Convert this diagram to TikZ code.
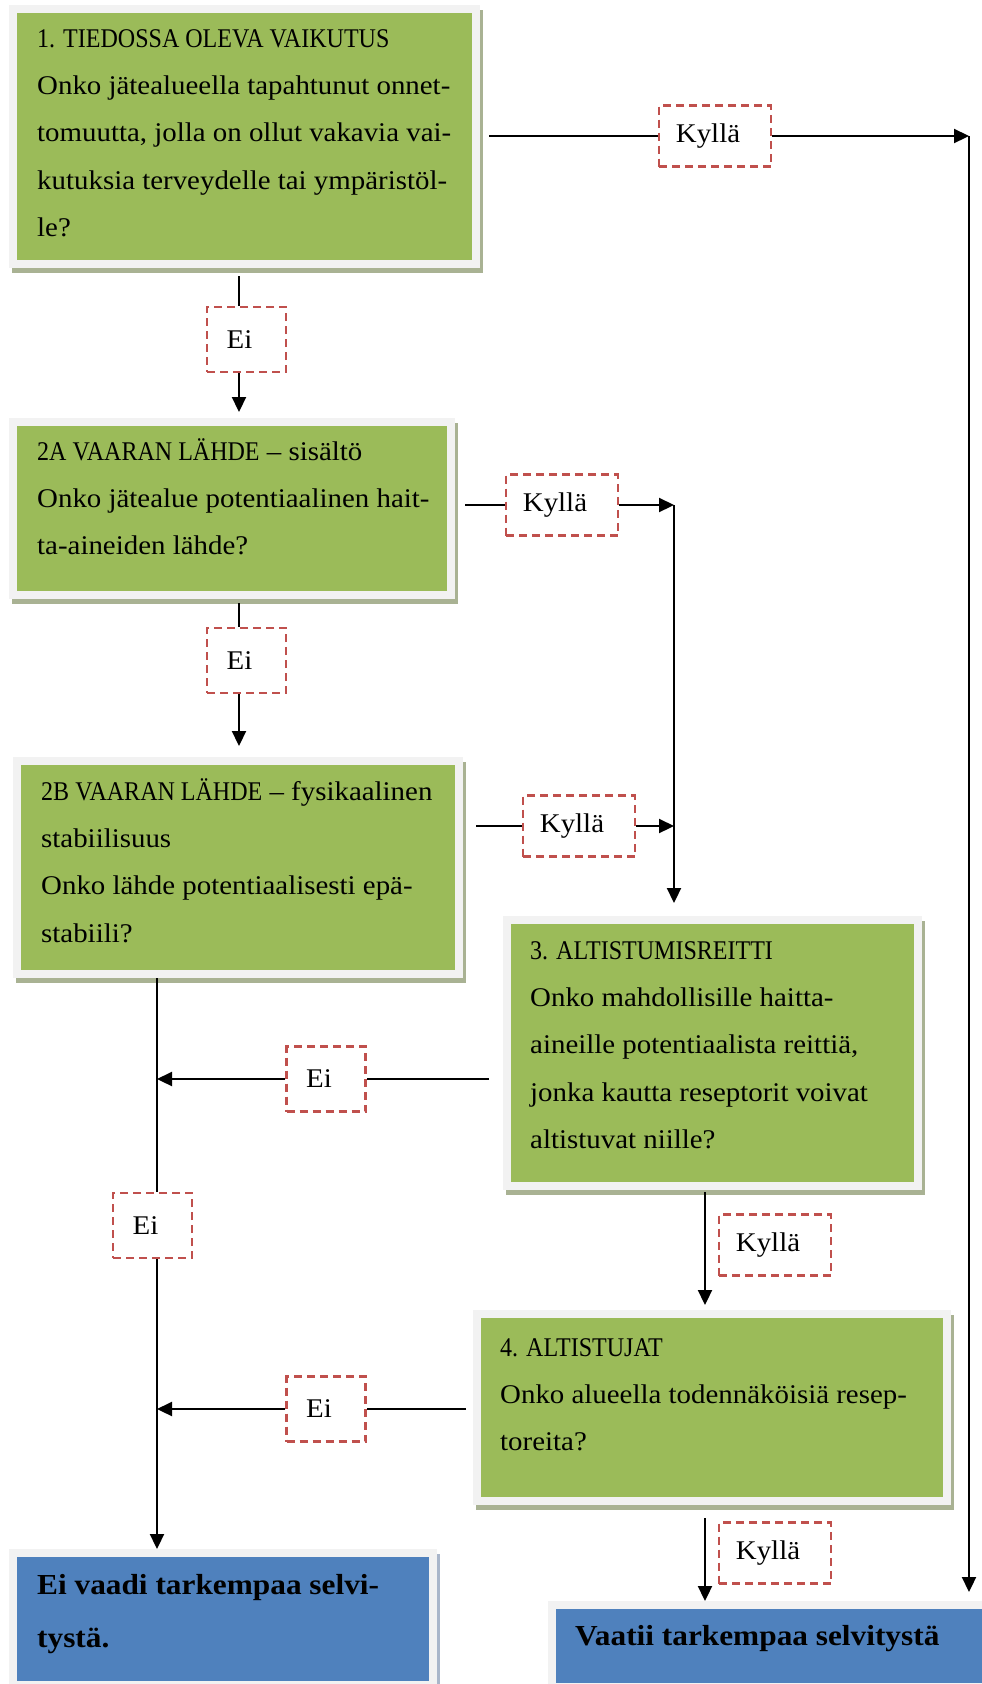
\documentclass[tikz,border=0pt]{standalone}
\usepackage{fontspec}
\setmainfont{Liberation Serif}[FakeStretch=1.07]
\newfontfamily\capsf{Liberation Serif}[FakeStretch=0.89]
\newfontfamily\boldf{Liberation Serif}[FakeStretch=1.08]
\usetikzlibrary{arrows.meta,calc}
\definecolor{boxG}{HTML}{9BBB59}
\definecolor{boxB}{HTML}{4F81BD}
\definecolor{frameC}{HTML}{F2F2F2}
\definecolor{shadG}{HTML}{A9B293}
\definecolor{shadB}{HTML}{A9B6CA}
\definecolor{dashR}{HTML}{C0504D}
\tikzset{
  framebox/.style n args={2}{rectangle, inner sep=0pt, outer sep=0pt, anchor=north west,
    fill=frameC, preaction={fill=#2, transform canvas={shift={(3pt,-5pt)}}},
    path picture={\fill[#1] ([shift={(8pt,-8pt)}]path picture bounding box.north west)
      rectangle ([shift={(-8pt,8pt)}]path picture bounding box.south east);}},
  gbox/.style={framebox={boxG}{shadG}},
  bbox/.style={framebox={boxB}{shadB}},
  txt/.style={anchor=north west, inner sep=0pt, align=left, font=\fontsize{27}{47.3}\selectfont},
  btxt/.style={anchor=north west, inner sep=0pt, align=left, font=\boldf\bfseries\fontsize{29}{53}\selectfont},
  lab/.style={draw=dashR, dash pattern=on 8pt off 5pt, line width=2.5pt, fill=white,
    inner sep=0pt, font=\fontsize{27}{32}\selectfont},
  kbox/.style={lab, minimum width=112pt, minimum height=61pt},
  ebox/.style={lab, minimum width=79pt, minimum height=65pt},
  conn/.style={line width=2.2pt},
  arr/.style={conn, -{Triangle[length=15pt,width=14pt]}}
}
\newcommand{\lbl}[1]{#1\kern14pt}
\begin{document}
\begin{tikzpicture}[x=1pt,y=-1pt]
\useasboundingbox (0,0) rectangle (982,1684);
% boxes
\node[gbox, minimum width=471pt, minimum height=263pt] (b1) at (9,5) {};
\node[gbox, minimum width=446pt, minimum height=181pt] (b2a) at (9,418) {};
\node[gbox, minimum width=450pt, minimum height=221pt] (b2b) at (13,757) {};
\node[gbox, minimum width=419pt, minimum height=274pt] (b3) at (503,916) {};
\node[gbox, minimum width=478pt, minimum height=195pt] (b4) at (473,1310) {};
\node[bbox, minimum width=428pt, minimum height=140pt] (bl) at (9,1549) {};
\node[bbox, minimum width=445pt, minimum height=90pt] (br) at (548,1601) {};
% texts
\node[txt] (t1) at (37,14) {\strut{\capsf 1. TIEDOSSA OLEVA VAIKUTUS}\\Onko jätealueella tapahtunut onnet-\\tomuutta, jolla on ollut vakavia vai-\\kutuksia terveydelle tai ympäristöl-\\le?};
\node[txt] (t2a) at (37,427) {\strut{\capsf 2A VAARAN LÄHDE} – sisältö\\Onko jätealue potentiaalinen hait-\\ta-aineiden lähde?};
\node[txt] (t2b) at (41,767) {\strut{\capsf 2B VAARAN LÄHDE} – fysikaalinen\\stabiilisuus\\Onko lähde potentiaalisesti epä-\\stabiili?};
\node[txt] (t3) at (530,926) {\strut{\capsf 3. ALTISTUMISREITTI}\\Onko mahdollisille haitta-\\aineille potentiaalista reittiä,\\jonka kautta reseptorit voivat\\altistuvat niille?};
\node[txt] (t4) at (500,1323) {\strut{\capsf 4. ALTISTUJAT}\\Onko alueella todennäköisiä resep-\\toreita?};
\node[btxt] (tl) at (37,1557) {\strut Ei vaadi tarkempaa selvi-\\tystä.};
\node[btxt] (tr) at (575,1608) {\strut Vaatii tarkempaa selvitystä};
% labels
\node[kbox] (k1) at (715,136) {\lbl{Kyllä}};
\node[ebox] (e1) at (246.5,339.5) {\lbl{Ei}};
\node[kbox] (k2a) at (562,505) {\lbl{Kyllä}};
\node[ebox] (e2) at (246.5,660.5) {\lbl{Ei}};
\node[kbox] (k2b) at (579,826) {\lbl{Kyllä}};
\node[ebox] (e3) at (326,1079) {\lbl{Ei}};
\node[ebox] (e5) at (152.5,1225.5) {\lbl{Ei}};
\node[kbox] (k3) at (775,1245) {\lbl{Kyllä}};
\node[ebox] (e4) at (326,1409) {\lbl{Ei}};
\node[kbox] (k4) at (775,1553) {\lbl{Kyllä}};
% columns
\coordinate (colA) at (239,0);
\coordinate (colL) at (157,0);
\coordinate (colM) at (674,0);
\coordinate (colC) at (705,0);
\coordinate (colR) at (969,0);
% connectors
\draw[conn, shorten <=9pt] (b1.east |- k1.west) -- (k1.west);
\draw[arr] (k1.east) -- (colR |- k1.east);
\draw[arr, shorten >=9pt] (colR |- k1.east) -- (colR |- br.north);
\draw[conn, shorten <=8pt] (colA |- b1.south) -- (colA |- e1.north);
\draw[arr, shorten >=6pt] (colA |- e1.south) -- (colA |- b2a.north);
\draw[conn, shorten <=10pt] (b2a.east |- k2a.west) -- (k2a.west);
\draw[arr] (k2a.east) -- (colM |- k2a.east);
\draw[arr, shorten >=13pt] (colM |- k2a.east) -- (colM |- b3.north);
\draw[conn, shorten <=4pt] (colA |- b2a.south) -- (colA |- e2.north);
\draw[arr, shorten >=11pt] (colA |- e2.south) -- (colA |- b2b.north);
\draw[conn, shorten <=13pt] (b2b.east |- k2b.west) -- (k2b.west);
\draw[arr] (k2b.east) -- (colM |- k2b.east);
\draw[conn] (colL |- b2b.south) -- (colL |- e5.north);
\draw[arr] (colL |- e5.south) -- (colL |- bl.north);
\draw[conn, shorten <=14pt] (b3.west |- e3.east) -- (e3.east);
\draw[arr] (e3.west) -- (colL |- e3.west);
\draw[arr, shorten <=2pt, shorten >=5pt] (colC |- b3.south) -- (colC |- b4.north);
\draw[conn, shorten <=7pt] (b4.west |- e4.east) -- (e4.east);
\draw[arr] (e4.west) -- (colL |- e4.west);
\draw[arr, shorten <=13pt] (colC |- b4.south) -- (colC |- br.north);
\end{tikzpicture}
\end{document}
